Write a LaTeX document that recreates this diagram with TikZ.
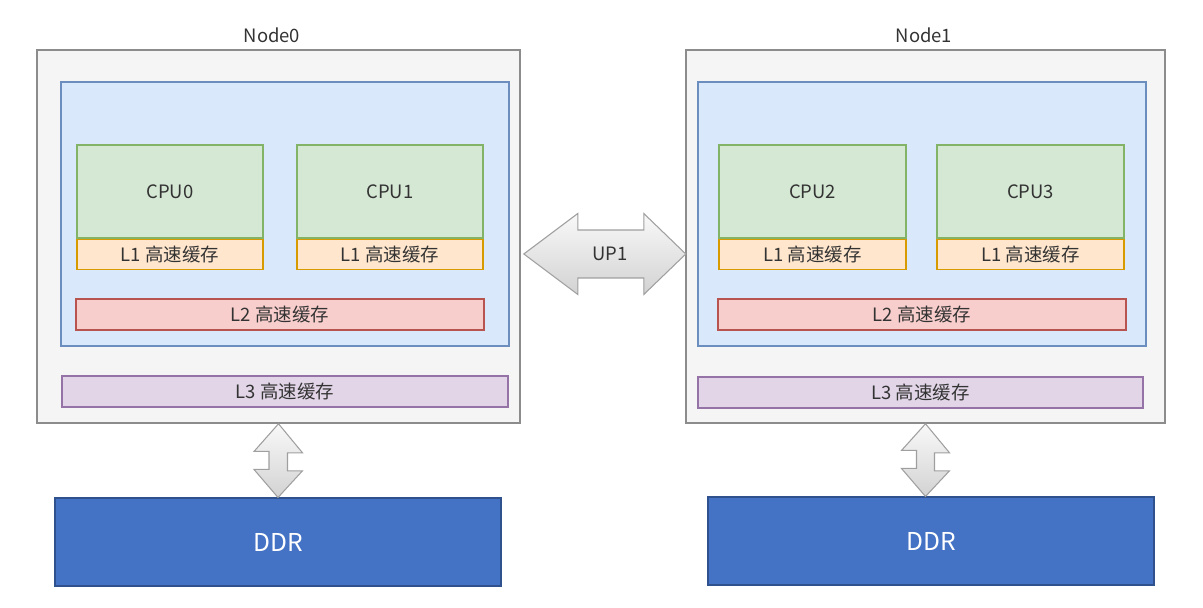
\documentclass[tikz,border=0pt]{standalone}
\usepackage{fontspec}
\setmainfont{Noto Sans CJK SC}
\usetikzlibrary{positioning}

\definecolor{txtgray}{HTML}{333333}
\definecolor{boxgray}{HTML}{F5F5F5}
\definecolor{linegray}{HTML}{8C8C8C}
\definecolor{blueFill}{HTML}{DAE8FC}
\definecolor{blueLine}{HTML}{6C8EBF}
\definecolor{greenFill}{HTML}{D5E8D4}
\definecolor{greenLine}{HTML}{82B366}
\definecolor{orangeFill}{HTML}{FFE6CC}
\definecolor{orangeLine}{HTML}{D79B00}
\definecolor{redFill}{HTML}{F8CECC}
\definecolor{redLine}{HTML}{B85450}
\definecolor{purpleFill}{HTML}{E1D5E7}
\definecolor{purpleLine}{HTML}{9673A6}
\definecolor{ddrFill}{HTML}{4472C4}
\definecolor{ddrLine}{HTML}{2F528F}

\begin{document}
\begin{tikzpicture}[
		font=\fontsize{10.5}{12}\selectfont, text=txtgray,
		nodebox/.style={draw=linegray, fill=boxgray, line width=0.9pt, minimum width=#1, minimum height=7.46cm},
		corebox/.style={draw=blueLine, fill=blueFill, line width=0.6pt, minimum width=8.96cm, minimum height=5.28cm},
		cpu/.style={draw=greenLine, fill=greenFill, line width=0.6pt, minimum width=3.72cm, minimum height=1.86cm, inner sep=0pt},
		lone/.style={draw=orangeLine, fill=orangeFill, line width=0.6pt, minimum width=3.72cm, minimum height=0.60cm, inner sep=0pt},
		ltwo/.style={draw=redLine, fill=redFill, line width=0.6pt, minimum width=8.16cm, minimum height=0.62cm, inner sep=0pt},
		lthree/.style={draw=purpleLine, fill=purpleFill, line width=0.6pt, minimum width=8.92cm, minimum height=0.62cm, inner sep=0pt},
		ddr/.style={draw=ddrLine, fill=ddrFill, line width=0.6pt, minimum width=8.92cm, minimum height=1.76cm, text=white, font=\fontsize{14}{16}\selectfont},
		fatarrow/.style={draw=gray!75, line width=0.6pt, top color=gray!5, bottom color=gray!35, line join=miter},
		]
		\useasboundingbox (0,0) rectangle (24.06,-12.16);

		% Node0
		\node[nodebox=9.66cm] (n0) at (5.57,-4.73) {};
		\node (t0) at (5.44,-0.70) {Node0};
		\node[corebox] (c0) at (5.70,-4.28) {};
		\node[cpu] (cpu0) at (3.40,-3.83) {CPU0};
		\node[lone, below=0pt of cpu0] (l1a) {L1 高速缓存};
		\node[cpu] (cpu1) at (7.80,-3.83) {CPU1};
		\node[lone, below=0pt of cpu1] (l1b) {L1 高速缓存};
		\node[ltwo] (l2a) at (5.60,-6.29) {L2 高速缓存};
		\node[lthree] (l3a) at (5.70,-7.83) {L3 高速缓存};
		\node[ddr] (ddr0) at (5.56,-10.84) {DDR};

		% Node1
		\node[nodebox=9.58cm] (n1) at (18.51,-4.73) {};
		\node (t1) at (18.48,-0.70) {Node1};
		\node[corebox] (c1) at (18.44,-4.28) {};
		\node[cpu, minimum width=3.74cm] (cpu2) at (16.25,-3.83) {CPU2};
		\node[lone, minimum width=3.74cm, below=0pt of cpu2] (l1c) {L1 高速缓存};
		\node[cpu, minimum width=3.74cm] (cpu3) at (20.61,-3.83) {CPU3};
		\node[lone, minimum width=3.74cm, below=0pt of cpu3] (l1d) {L1 高速缓存};
		\node[ltwo] (l2b) at (18.44,-6.29) {L2 高速缓存};
		\node[lthree, minimum width=8.90cm] (l3b) at (18.41,-7.85) {L3 高速缓存};
		\node[ddr] (ddr1) at (18.62,-10.82) {DDR};

		% UP1 between the nodes
		\draw[fatarrow] ([xshift=0.06cm, yshift=-0.35cm]n0.east) -- ++(1.08,0.81) -- ++(0,-0.33)
			-- ++(1.32,0) -- ++(0,0.33) -- ++(0.84,-0.81) -- ++(-0.84,-0.81) -- ++(0,0.33)
			-- ++(-1.32,0) -- ++(0,-0.33) -- cycle;
		\node (up1) at (12.20,-5.08) {UP1};

		% memory links
		\draw[fatarrow] (n0.south) -- ++(0.48,-0.58) -- ++(-0.30,0) -- ++(0,-0.36) -- ++(0.30,0)
			-- (ddr0.north) -- ++(-0.48,0.56) -- ++(0.30,0) -- ++(0,0.36) -- ++(-0.30,0) -- cycle;
		\draw[fatarrow] (n1.south) -- ++(0.48,-0.58) -- ++(-0.30,0) -- ++(0,-0.36) -- ++(0.30,0)
			-- (ddr1.north -| n1.south) -- ++(-0.48,0.56) -- ++(0.30,0) -- ++(0,0.36) -- ++(-0.30,0) -- cycle;
	\end{tikzpicture}
\end{document}
